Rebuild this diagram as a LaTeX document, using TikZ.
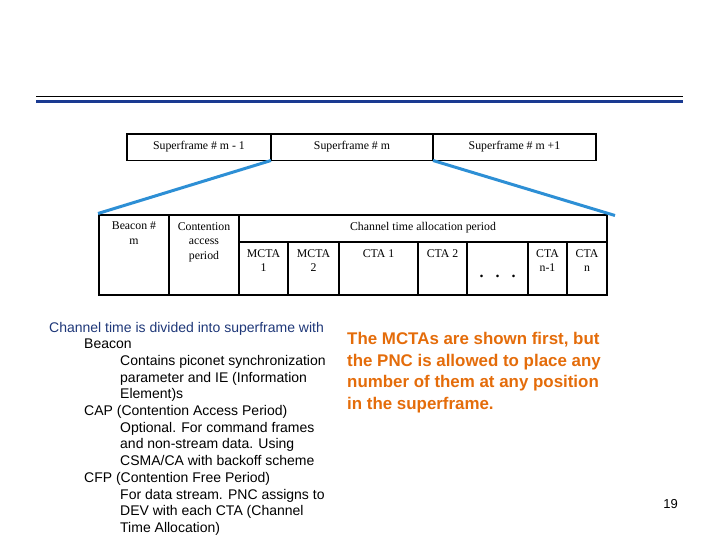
\documentclass[tikz,border=0pt]{standalone}
\usepackage{fontspec}
\setmainfont{Liberation Serif}
\newfontfamily\arialf{Liberation Sans}
\definecolor{hdrblue}{RGB}{26,58,145}
\definecolor{zoomblue}{RGB}{45,143,213}
\definecolor{navytxt}{RGB}{30,55,120}
\definecolor{orangetxt}{RGB}{228,108,10}
\begin{document}
\begin{tikzpicture}[x=1pt,y=-1pt,
  cell/.style={draw=black,line width=1.4pt,inner sep=0pt,outer sep=0pt,anchor=north west},
  ctext/.style={font=\fontsize{11.8}{14.6}\selectfont,align=center,inner sep=0pt,anchor=north},
  zoomline/.style={draw=zoomblue,line width=3pt},
  lefttxt/.style={font=\arialf\fontsize{14}{16.7}\selectfont,anchor=base west,inner sep=0pt},
  righttxt/.style={font=\arialf\bfseries\fontsize{16.9}{21.5}\selectfont,text=orangetxt,align=left,anchor=base west,inner sep=0pt}]
\useasboundingbox (0,0) rectangle (720,540);
% header rules
\draw[black,line width=1.1pt] (36,96.8) -- (683,96.8);
\draw[hdrblue,line width=3pt] (36,101.3) -- (683,101.3);
% superframes
\node[cell,minimum width=144pt,minimum height=26.5pt] (sf1) at (127,134) {};
\node[cell,minimum width=162pt,minimum height=26.5pt] (sf2) at (271,134) {};
\node[cell,minimum width=163pt,minimum height=26.5pt] (sf3) at (433,134) {};
\node[ctext,yshift=-7pt] (sf1t) at (sf1.north) {Superframe \# m - 1};
\node[ctext,yshift=-7pt] (sf2t) at (sf2.north) {Superframe \# m};
\node[ctext,yshift=-7pt] (sf3t) at (sf3.north) {Superframe \# m +1};
% lower superframe detail
\node[cell,minimum width=70pt,minimum height=80pt] (bcn) at (99,215) {};
\node[cell,minimum width=70pt,minimum height=80pt] (cap) at (169,215) {};
\node[cell,minimum width=368pt,minimum height=27pt] (ctap) at (239,215) {};
\node[cell,minimum width=49pt,minimum height=53pt] (mcta1) at (239,242) {};
\node[cell,minimum width=51pt,minimum height=53pt] (mcta2) at (288,242) {};
\node[cell,minimum width=79pt,minimum height=53pt] (cta1) at (339,242) {};
\node[cell,minimum width=49pt,minimum height=53pt] (cta2) at (418,242) {};
\node[cell,minimum width=61pt,minimum height=53pt] (dots) at (467,242) {};
\node[cell,minimum width=39pt,minimum height=53pt] (ctan1) at (528,242) {};
\node[cell,minimum width=40pt,minimum height=53pt] (ctan) at (567,242) {};
\node[ctext,yshift=-7pt] (bcnt) at (bcn.north) {Beacon \#\\m};
\node[ctext,yshift=-7pt] (capt) at (cap.north) {Contention\\access\\period};
\node[ctext,yshift=-7pt] (ctapt) at (ctap.north) {Channel time allocation period};
\node[ctext,yshift=-7pt] (mcta1t) at (mcta1.north) {MCTA\\1};
\node[ctext,yshift=-7pt] (mcta2t) at (mcta2.north) {MCTA\\2};
\node[ctext,yshift=-7pt] (cta1t) at (cta1.north) {CTA 1};
\node[ctext,yshift=-7pt] (cta2t) at (cta2.north) {CTA 2};
\node[ctext,yshift=-7pt] (ctan1t) at (ctan1.north) {CTA\\n-1};
\node[ctext,yshift=-7pt] (ctant) at (ctan.north) {CTA\\n};
\node[font=\bfseries\fontsize{16}{16}\selectfont,inner sep=0pt,anchor=base] (dotst) at ([yshift=-35.5pt]dots.north) {.\hspace{12pt}.\hspace{12pt}.};
% zoom connectors
\coordinate (lbL) at (98,213.5);
\coordinate (lbR) at (615,215.5);
\draw[zoomline] (sf2.south west) -- (lbL);
\draw[zoomline] (sf3.south west) -- (lbR);
% left text
\node[lefttxt,text=navytxt] (l1) at (49,332) {Channel time is divided into superframe with};
\node[lefttxt] (l2) at (84,348.7) {Beacon};
\node[lefttxt] (l3) at (120,365.4) {Contains piconet synchronization};
\node[lefttxt] (l4) at (120,382.1) {parameter and IE (Information};
\node[lefttxt] (l5) at (120,398.8) {Element)s};
\node[lefttxt] (l6) at (84,415.5) {CAP (Contention Access Period)};
\node[lefttxt] (l7) at (120,432.2) {Optional. For command frames};
\node[lefttxt] (l8) at (120,448.9) {and non-stream data. Using};
\node[lefttxt] (l9) at (120,465.6) {CSMA/CA with backoff scheme};
\node[lefttxt] (l10) at (84,482.3) {CFP (Contention Free Period)};
\node[lefttxt] (l11) at (120,499) {For data stream. PNC assigns to};
\node[lefttxt] (l12) at (120,515.7) {DEV with each CTA (Channel};
\node[lefttxt] (l13) at (120,532.4) {Time Allocation)};
% right text
\node[righttxt] (r1) at (347,344.5) {The MCTAs are shown first, but};
\node[righttxt] (r2) at (347,366) {the PNC is allowed to place any};
\node[righttxt] (r3) at (347,387.5) {number of them at any position};
\node[righttxt] (r4) at (347,409) {in the superframe.};
% page number
\node[font=\arialf\fontsize{13}{13}\selectfont,inner sep=0pt] (pg) at (670.5,504) {19};
\end{tikzpicture}
\end{document}
